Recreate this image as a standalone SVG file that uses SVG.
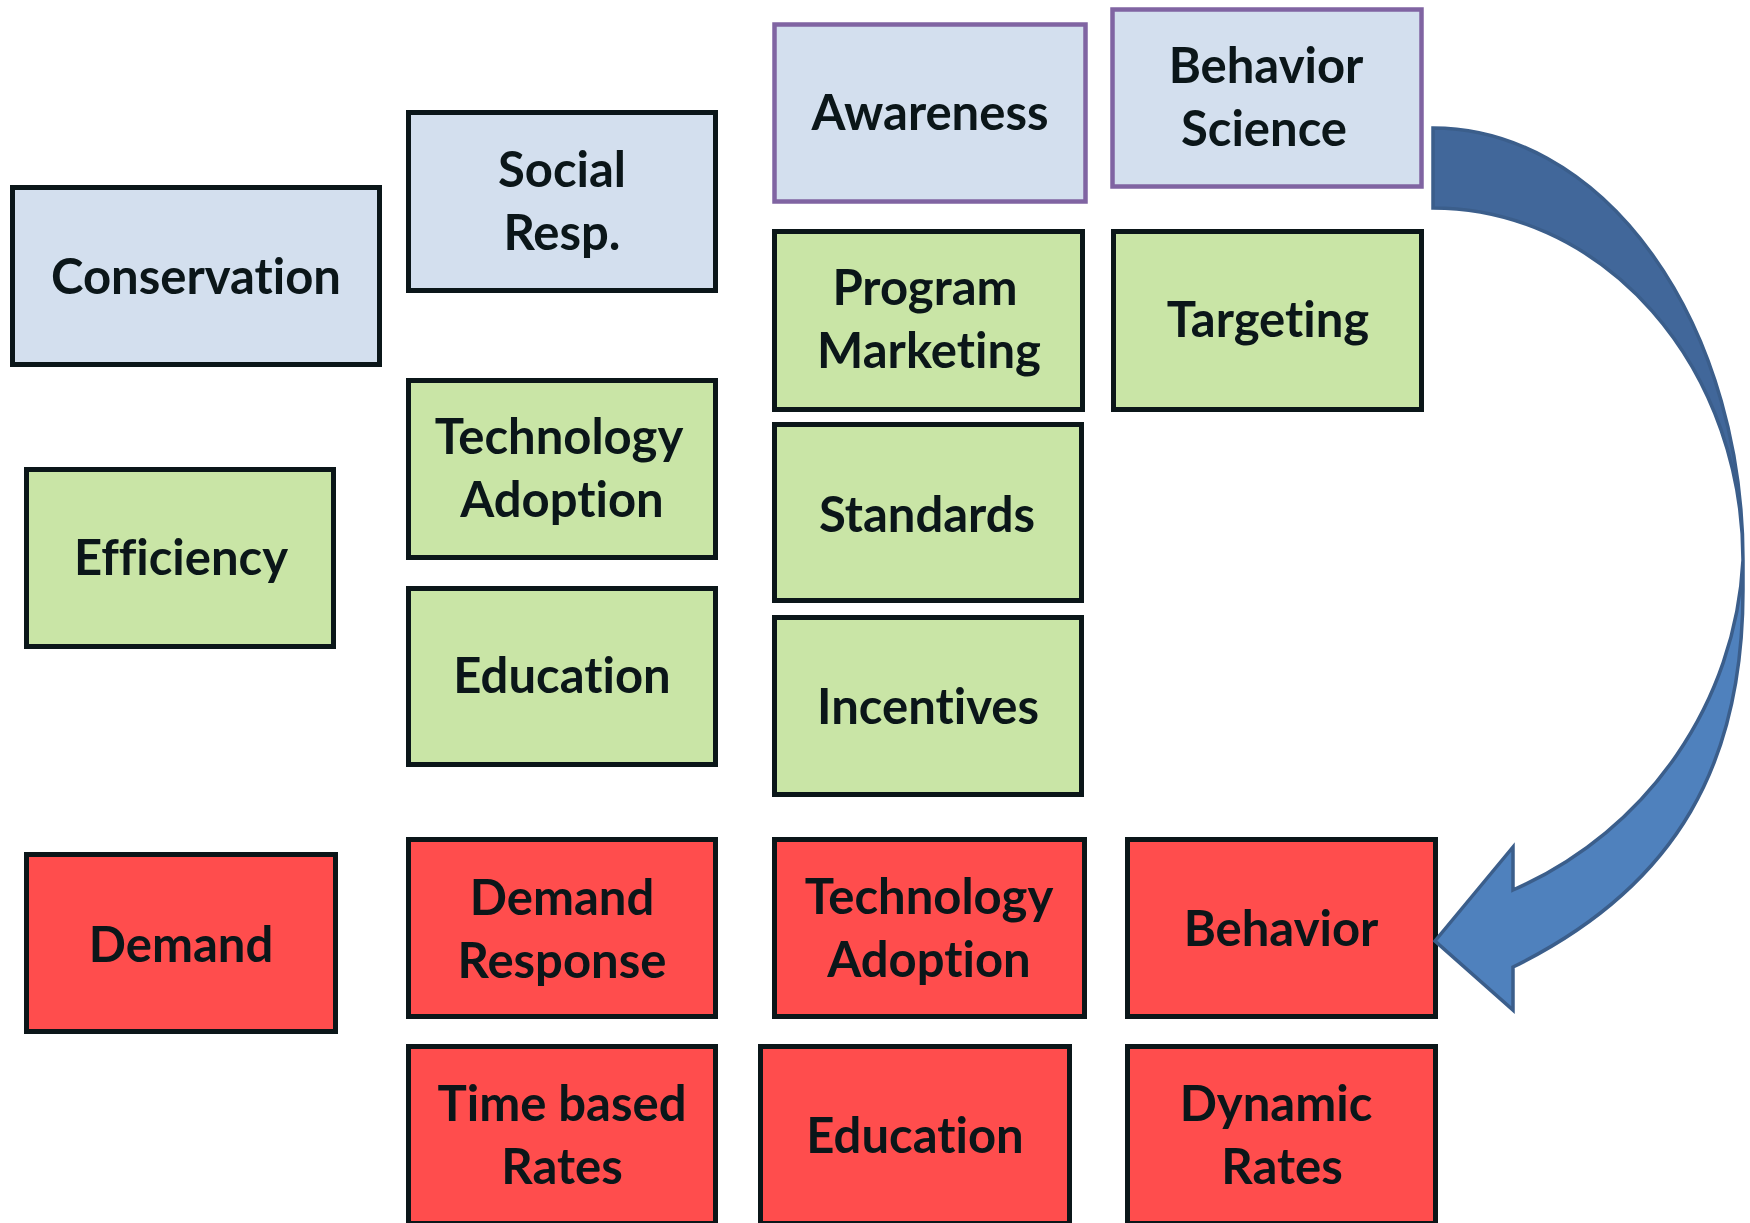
<svg xmlns="http://www.w3.org/2000/svg" width="1750" height="1223" viewBox="0 0 1750 1223">
  <style>
    .box { stroke: #0b1619; stroke-width: 5; }
    .blue { fill: #d3dfee; }
    .blue-p { fill: #d3dfee; stroke: #8064a2; stroke-width: 4.5; }
    .green { fill: #c9e5a6; }
    .red { fill: #ff4d4d; }
    .lbl { font-family: "Lato", "Liberation Sans", sans-serif; font-weight: 700; font-size: 49px; fill: #0b1619; text-anchor: middle; font-variant-ligatures: none; }
    .arrow-back { fill: #41679a; stroke: #3b5e8b; stroke-width: 3.5; stroke-linejoin: miter; }
    .arrow-front { fill: #4f81bd; stroke: #3b5e8b; stroke-width: 3.5; stroke-linejoin: miter; }
  </style>

  <rect width="1750" height="1223" fill="#ffffff"/>

  <!-- top row: themes -->
  <g id="conservation">
    <rect class="box blue" x="12.5" y="187.5" width="367" height="177"/>
    <text class="lbl" x="196" y="294">Conservation</text>
  </g>
  <g id="social-resp">
    <rect class="box blue" x="408.5" y="112.5" width="307" height="178"/>
    <text class="lbl" x="562" y="187">Social</text>
    <text class="lbl" x="562" y="250">Resp.</text>
  </g>
  <g id="awareness">
    <rect class="blue-p" x="774.5" y="24.5" width="311" height="177"/>
    <text class="lbl" x="930" y="130">Awareness</text>
  </g>
  <g id="behavior-science">
    <rect class="blue-p" x="1112.5" y="9.5" width="309" height="177"/>
    <text class="lbl" x="1266" y="83">Behavior</text>
    <text class="lbl" x="1264" y="146">Science</text>
  </g>

  <!-- middle rows: programs -->
  <g id="program-marketing">
    <rect class="box green" x="774.5" y="231.5" width="308" height="178"/>
    <text class="lbl" x="925" y="305">Program</text>
    <text class="lbl" x="929" y="368">Marketing</text>
  </g>
  <g id="targeting">
    <rect class="box green" x="1113.5" y="231.5" width="308" height="178"/>
    <text class="lbl" x="1268" y="337">Targeting</text>
  </g>
  <g id="efficiency">
    <rect class="box green" x="26.5" y="469.5" width="307" height="177"/>
    <text class="lbl" x="181" y="575">Efficiency</text>
  </g>
  <g id="technology-adoption-1">
    <rect class="box green" x="408.5" y="380.5" width="307" height="177"/>
    <text class="lbl" x="559" y="454">Technology</text>
    <text class="lbl" x="562" y="517">Adoption</text>
  </g>
  <g id="education-1">
    <rect class="box green" x="408.5" y="588.5" width="307" height="176"/>
    <text class="lbl" x="562" y="693">Education</text>
  </g>
  <g id="standards">
    <rect class="box green" x="774.5" y="424.5" width="307" height="176"/>
    <text class="lbl" x="927" y="532">Standards</text>
  </g>
  <g id="incentives">
    <rect class="box green" x="774.5" y="617.5" width="307" height="177"/>
    <text class="lbl" x="928" y="724">Incentives</text>
  </g>

  <!-- bottom rows: outcomes -->
  <g id="demand">
    <rect class="box red" x="26.5" y="854.5" width="309" height="177"/>
    <text class="lbl" x="181" y="962">Demand</text>
  </g>
  <g id="demand-response">
    <rect class="box red" x="408.5" y="839.5" width="307" height="177"/>
    <text class="lbl" x="562" y="915">Demand</text>
    <text class="lbl" x="562" y="978">Response</text>
  </g>
  <g id="technology-adoption-2">
    <rect class="box red" x="774.5" y="839.5" width="310" height="177"/>
    <text class="lbl" x="929" y="914">Technology</text>
    <text class="lbl" x="929" y="977">Adoption</text>
  </g>
  <g id="behavior">
    <rect class="box red" x="1127.5" y="839.5" width="308" height="177"/>
    <text class="lbl" x="1281" y="946">Behavior</text>
  </g>
  <g id="time-based-rates">
    <rect class="box red" x="408.5" y="1046.5" width="307" height="177"/>
    <text class="lbl" x="562" y="1121">Time based</text>
    <text class="lbl" x="562" y="1184">Rates</text>
  </g>
  <g id="education-2">
    <rect class="box red" x="760.5" y="1046.5" width="309" height="177"/>
    <text class="lbl" x="915" y="1153">Education</text>
  </g>
  <g id="dynamic-rates">
    <rect class="box red" x="1127.5" y="1046.5" width="308" height="177"/>
    <text class="lbl" x="1276" y="1121">Dynamic</text>
    <text class="lbl" x="1282" y="1184">Rates</text>
  </g>

  <!-- curved arrow from Behavior Science down to Behavior -->
  <g id="connectors">
    <path class="arrow-back" d="M1433,128 A310,432 0 0 1 1743,560 A310,352 0 0 0 1433,208 Z"/>
    <path class="arrow-front" d="M1743,560 L1743,590 C1743,760 1680,885 1513,967 L1513,1010 L1435,941 L1513,847 L1513,890 C1650,830 1736,700 1743,560 Z"/>
  </g>
</svg>
